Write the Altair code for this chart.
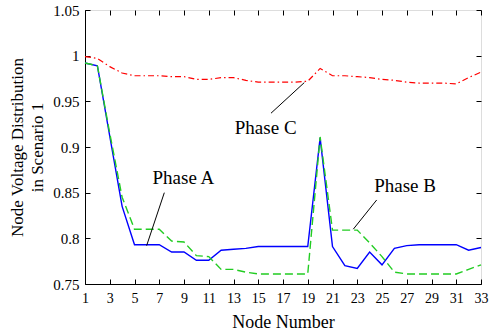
import altair as alt
import pandas as pd

nodes = list(range(1, 34))
phase_a = [0.992, 0.989, 0.912, 0.835, 0.793, 0.793, 0.793, 0.785, 0.785, 0.776,
           0.776, 0.787, 0.788, 0.789, 0.791, 0.791, 0.791, 0.791, 0.791, 0.910,
           0.791, 0.770, 0.767, 0.785, 0.771, 0.789, 0.792, 0.793, 0.793, 0.793,
           0.793, 0.787, 0.790]
phase_b = [0.992, 0.989, 0.915, 0.845, 0.810, 0.810, 0.810, 0.797, 0.796, 0.781,
           0.780, 0.766, 0.766, 0.763, 0.761, 0.761, 0.761, 0.761, 0.761, 0.911,
           0.809, 0.809, 0.809, 0.795, 0.780, 0.763, 0.761, 0.761, 0.761, 0.761,
           0.761, 0.766, 0.771]
phase_c = [0.999, 0.997, 0.988, 0.981, 0.978, 0.978, 0.978, 0.977, 0.977, 0.974,
           0.974, 0.976, 0.976, 0.973, 0.971, 0.971, 0.971, 0.971, 0.972, 0.986,
           0.978, 0.978, 0.977, 0.976, 0.974, 0.973, 0.971, 0.970, 0.970, 0.970,
           0.969, 0.976, 0.982]
x_ticks = list(range(1, 34, 2))
y_ticks = [0.75, 0.8, 0.85, 0.9, 0.95, 1.0, 1.05]

labels = ["Phase A", "Phase B", "Phase C"]
label_x = [8.95, 26.86, 15.6]
label_y = [0.860, 0.851, 0.914]
arrow_x1 = [7.41, 24.57, 16.03]
arrow_y1 = [0.850, 0.842, 0.937]
arrow_x2 = [5.98, 22.68, 18.72]
arrow_y2 = [0.792, 0.810, 0.9705]

W, H = 396, 274
FONT = "Liberation Serif"

df_a = pd.DataFrame({"node": nodes, "v": phase_a})
df_b = pd.DataFrame({"node": nodes, "v": phase_b})
df_c = pd.DataFrame({"node": nodes, "v": phase_c})
df_lab = pd.DataFrame({"t": labels, "x": label_x, "y": label_y})
df_arr = pd.DataFrame({"x1": arrow_x1, "y1": arrow_y1, "x2": arrow_x2, "y2": arrow_y2})

xs = alt.Scale(domain=[1, 33], nice=False, zero=False)
ys = alt.Scale(domain=[0.75, 1.05], nice=False, zero=False)

x_axis = alt.Axis(
    orient="bottom", values=x_ticks, tickSize=0, grid=False, labelPadding=7,
    labelFontSize=14, labelFont=FONT, labelColor="black", domainColor="black",
    labelOverlap=False, labelFlush=False, labelBound=False,
    title="Node Number", titleFont=FONT, titleFontSize=18, titleFontWeight="normal",
    titleColor="black", titlePadding=8)
y_axis = alt.Axis(
    orient="left", values=y_ticks, format="~g", tickSize=0, grid=False, labelPadding=6,
    labelFontSize=15, labelFont=FONT, labelColor="black", domainColor="black",
    labelOverlap=False, labelFlush=False, labelBound=False,
    title=["Node Voltage Distribution", "in Scenario 1"], titleFont=FONT,
    titleFontSize=17, titleFontWeight="normal", titleColor="black", titlePadding=6,
    titleLineHeight=20)

enc_x = alt.X("node:Q", scale=xs, axis=x_axis)
enc_y = alt.Y("v:Q", scale=ys, axis=y_axis)

line_a = alt.Chart(df_a).mark_line(color="#0000ff", strokeWidth=1.4).encode(x=enc_x, y=enc_y)
line_b = alt.Chart(df_b).mark_line(color="#22cc22", strokeWidth=1.4, strokeDash=[8, 4]).encode(
    x=enc_x, y=enc_y)
line_c = alt.Chart(df_c).mark_line(color="#ff0000", strokeWidth=1.2, strokeDash=[6, 3, 1.5, 3]).encode(
    x=enc_x, y=enc_y)
arrows = alt.Chart(df_arr).mark_rule(color="black", strokeWidth=1).encode(
    x=alt.X("x1:Q", scale=xs, axis=x_axis), y=alt.Y("y1:Q", scale=ys, axis=y_axis),
    x2="x2:Q", y2="y2:Q")
texts = alt.Chart(df_lab).mark_text(font=FONT, fontSize=19, color="black",
                                    align="center", baseline="alphabetic").encode(
    x=alt.X("x:Q", scale=xs, axis=x_axis), y=alt.Y("y:Q", scale=ys, axis=y_axis), text="t:N")

main = alt.layer(line_a, line_b, line_c, arrows, texts)


def tick_layer(xorient, yorient):
    return alt.Chart(df_a).mark_point(opacity=0).encode(
        x=alt.X("node:Q", scale=xs, axis=alt.Axis(
            orient=xorient, offset=-H, values=x_ticks, labels=False, domain=False,
            grid=False, ticks=True, tickSize=5, tickColor="black", title=None)),
        y=alt.Y("v:Q", scale=ys, axis=alt.Axis(
            orient=yorient, offset=-W, values=y_ticks, labels=False, domain=False,
            grid=False, ticks=True, tickSize=5, tickColor="black", title=None)))


chart = alt.layer(main, tick_layer("top", "right"), tick_layer("bottom", "left")).resolve_scale(
    x="independent", y="independent").properties(
    width=W, height=H, autosize="none",
    padding={"left": 85, "top": 10, "right": 8, "bottom": 50},
).configure_view(stroke="black", strokeWidth=1).configure_axis(
    labelOverlap=False, labelFlush=False, labelBound=False
).configure(background="white")

chart.save("out.html", embed_options={"renderer": "svg", "actions": False})
